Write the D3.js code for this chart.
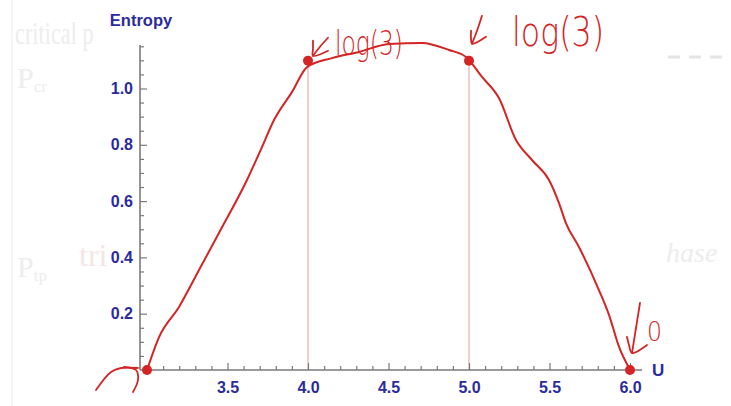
<!DOCTYPE html>
<html>
<head>
<meta charset="utf-8">
<script src="https://cdn.jsdelivr.net/npm/d3@7"></script>
<style>
  html, body { margin: 0; padding: 0; background: #fff; }
  svg { display: block; }
</style>
</head>
<body>
<svg id="chart" width="731" height="406"></svg>
<script>
// marked points (U, entropy)
const markU = [3, 4, 5, 6]
const markS = [0, Math.log(3), Math.log(3), 0]

// hand-drawn curve
const curveU = [3.0, 3.075, 3.199, 3.323, 3.447, 3.621, 3.705, 3.789, 3.901, 3.994, 4.149, 4.317, 4.503, 4.708, 4.876, 4.981, 5.081, 5.186, 5.292, 5.391, 5.497, 5.559, 5.602, 5.683, 5.807, 5.870, 5.932, 5.994]
const curveS = [0.0, 0.117, 0.224, 0.355, 0.487, 0.675, 0.780, 0.888, 0.988, 1.076, 1.108, 1.130, 1.158, 1.162, 1.137, 1.112, 1.041, 0.966, 0.817, 0.746, 0.675, 0.593, 0.522, 0.437, 0.284, 0.195, 0.082, 0.007]

const xMajor = [3.5, 4.0, 4.5, 5.0, 5.5, 6.0]
const yMajor = [0.2, 0.4, 0.6, 0.8, 1.0]

const svg = d3.select('#chart')
const red = '#d42424'
const blue = '#2b2b9e'

let x = d3.scaleLinear().domain([3, 6]).range([147, 630])
let y = d3.scaleLinear().domain([0, 1]).range([370, 88.5])

// axis ends (in data units)
const uOrigin = x.invert(140), uEnd = x.invert(642)
const sTop = y.invert(45)

// faint leftovers from the slide behind the plot
const ghost = svg.append('g').attr('fill', '#ededed').style('font-family', 'Liberation Serif')
ghost.append('line').attr('x1', 12).attr('x2', 12).attr('y1', 0).attr('y2', 406)
  .attr('stroke', '#f2f2f2').attr('stroke-width', 1.5)
ghost.append('text').attr('transform', 'translate(15,44) scale(0.72,1)')
  .style('font-size', '31px').text('critical p')
ghost.append('text').attr('x', 17).attr('y', 88).style('font-size', '30px')
  .text('P').append('tspan').attr('dy', 4).style('font-size', '17px').text('cr')
ghost.append('text').attr('x', 17).attr('y', 277).style('font-size', '30px')
  .text('P').append('tspan').attr('dy', 4).style('font-size', '17px').text('tp')
ghost.append('text').attr('x', 79).attr('y', 266).attr('fill', '#f4e6e6').style('font-size', '32px').text('tri')
ghost.append('text').attr('x', 666).attr('y', 262).style('font-size', '28px').style('font-style', 'italic').text('hase')
ghost.append('line').attr('x1', 668).attr('x2', 731).attr('y1', 57).attr('y2', 57)
  .attr('stroke', '#e4e4e4').attr('stroke-width', 3).attr('stroke-dasharray', '12,9')

// pink drop lines
svg.append('g').selectAll('line')
  .data(markU.map((u, i) => [u, markS[i]]).filter(d => d[1] > 0))
  .enter().append('line')
  .attr('x1', d => x(d[0])).attr('x2', d => x(d[0]))
  .attr('y1', d => y(d[1])).attr('y2', y(0))
  .attr('stroke', '#eab6b6').attr('stroke-width', 1.3)

// axes
const axisColor = '#7a7a7a'
const yMinor = d3.range(0.05, 1.151, 0.05).filter(v => Math.abs(v * 5 - Math.round(v * 5)) > 1e-6)
const xMinor = d3.range(3.1, 6.051, 0.1).filter(v => Math.abs(v * 2 - Math.round(v * 2)) > 1e-6)

const gy = svg.append('g').attr('transform', `translate(${x(uOrigin)},0)`)
gy.call(d3.axisLeft(y).tickValues(yMajor).tickFormat(d3.format('.1f')).tickSize(-7).tickPadding(7))
gy.append('g').call(d3.axisLeft(y).tickValues(yMinor).tickFormat('').tickSize(-4))
gy.selectAll('.domain').remove()
gy.append('line').attr('y1', y(0)).attr('y2', y(sTop))

const gx = svg.append('g').attr('transform', `translate(0,${y(0)})`)
gx.call(d3.axisBottom(x).tickValues(xMajor).tickFormat(d3.format('.1f')).tickSize(-7).tickPadding(12))
gx.append('g').call(d3.axisBottom(x).tickValues(xMinor).tickFormat('').tickSize(-4))
gx.selectAll('.domain').remove()
gx.append('line').attr('x1', x(uOrigin)).attr('x2', x(uEnd))

svg.selectAll('.tick line').attr('stroke', axisColor).attr('stroke-width', 1.2)
gx.selectAll(':scope > line').attr('stroke', axisColor).attr('stroke-width', 1.6)
gy.selectAll(':scope > line').attr('stroke', axisColor).attr('stroke-width', 1.6)
svg.selectAll('.tick text')
  .attr('fill', blue)
  .style('font-family', 'Liberation Sans, Arial, sans-serif')
  .style('font-size', '16px').style('font-weight', 'bold')

svg.append('text').attr('x', x(uOrigin) + 1).attr('y', 26).attr('text-anchor', 'middle')
  .attr('fill', blue).style('font-family', 'Liberation Sans, Arial, sans-serif')
  .style('font-size', '16.5px').style('font-weight', 'bold').text('Entropy')
svg.append('text').attr('x', x(uEnd) + 10).attr('y', y(0) + 6)
  .attr('fill', blue).style('font-family', 'Liberation Sans, Arial, sans-serif')
  .style('font-size', '17px').style('font-weight', 'bold').text('U')

// hand-drawn curve
const line = d3.line().x(d => x(d[0])).y(d => y(d[1])).curve(d3.curveMonotoneX)
svg.append('path')
  .datum(curveU.map((u, i) => [u, curveS[i]]))
  .attr('d', line).attr('fill', 'none')
  .attr('stroke', red).attr('stroke-width', 2).attr('stroke-linejoin', 'round')

// dots
svg.append('g').selectAll('circle')
  .data(markU.map((u, i) => [u, markS[i]]))
  .enter().append('circle')
  .attr('cx', d => x(d[0])).attr('cy', d => y(d[1])).attr('r', 5)
  .attr('fill', red)

// handwritten notes, offsets in px from the marked point they point at
const pen = d3.line().curve(d3.curveCatmullRom)
function scribble(i, strokes) {
  const px = x(markU[i]), py = y(markS[i])
  strokes.forEach(s => {
    svg.append('path').attr('d', pen(s.map(p => [px + p[0], py + p[1]])))
      .attr('fill', 'none').attr('stroke', red).attr('stroke-width', 1.8)
      .attr('stroke-linecap', 'round').attr('stroke-linejoin', 'round')
  })
}
function note(i, dx, dy, size, width, txt) {
  svg.append('text').attr('x', x(markU[i]) + dx).attr('y', y(markS[i]) + dy)
    .attr('fill', red).style('font-family', 'DejaVu Sans').style('font-weight', 200)
    .style('font-size', size + 'px')
    .attr('textLength', width).attr('lengthAdjust', 'spacingAndGlyphs')
    .text(txt)
}

scribble(1, [[[20, -23], [12, -14], [5, -5]], [[5, -20], [5, -12], [5, -5], [20, -10]]])
note(1, 27, -6, 34, 68, 'log(3)')
scribble(2, [[[13, -45], [8, -30], [3, -17]], [[2, -30], [2, -22], [3, -17], [17, -24]]])
note(2, 43, -15, 40, 92, 'log(3)')
scribble(3, [[[10, -67], [6, -42], [2, -17]], [[-3, -33], [-1, -25], [2, -17], [17, -25]]])
note(3, 17, -29, 26, 15, '0')
scribble(0, [[[-51, 20], [-36, 2], [-26, -2], [-9, -2]], [[-23, -3], [-11, 0], [-9, 10], [-14, 22]]])
</script>
</body>
</html>
